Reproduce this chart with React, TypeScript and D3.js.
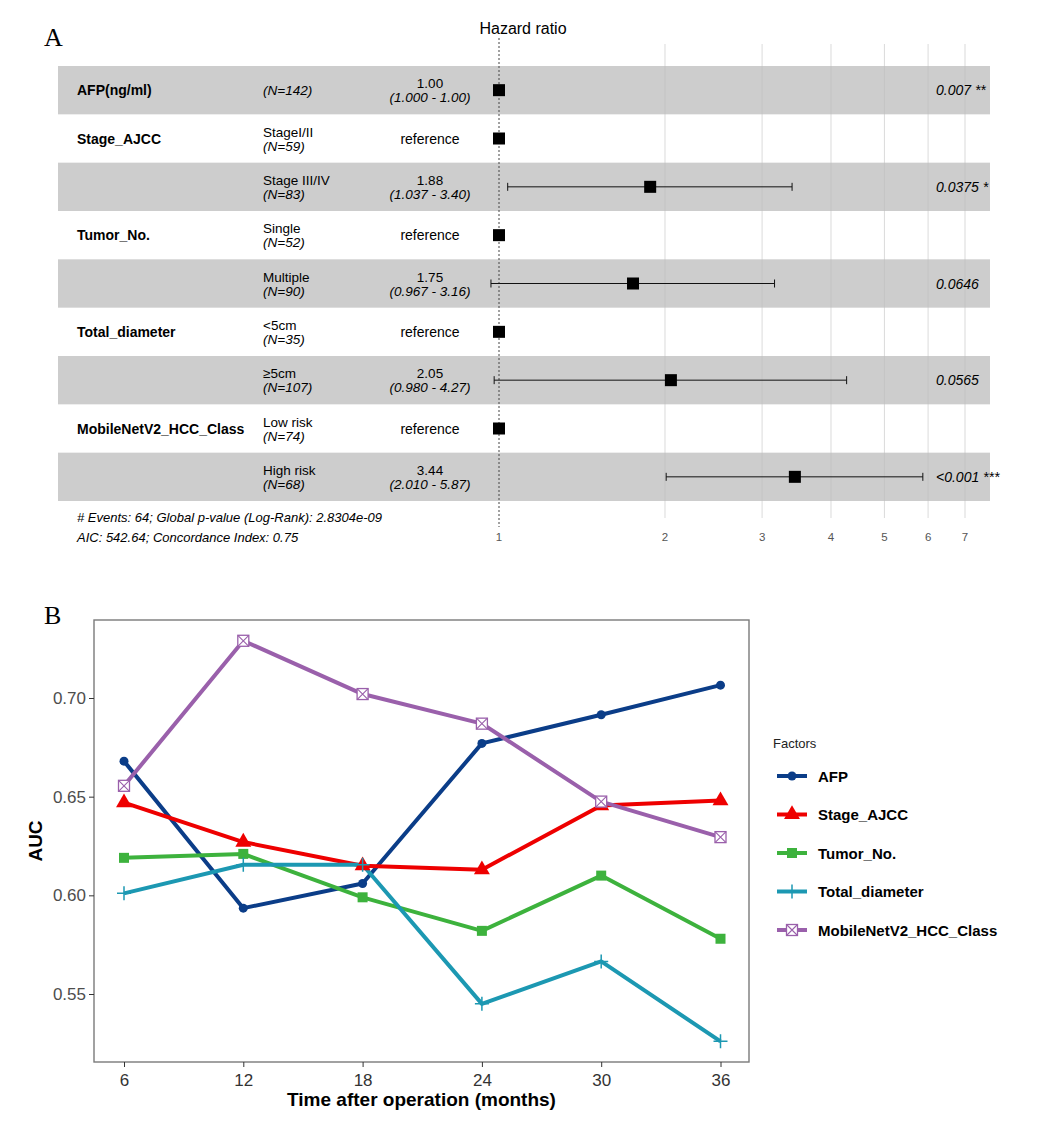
import * as d3 from 'd3';
import { useEffect, useRef } from 'react';

// Panel A: Cox model forest plot
const forestVars = ['AFP(ng/ml)', 'Stage_AJCC', '', 'Tumor_No.', '', 'Total_diameter', '', 'MobileNetV2_HCC_Class', ''];
const forestLevels = ['', 'StageI/II', 'Stage III/IV', 'Single', 'Multiple', '<5cm', '≥5cm', 'Low risk', 'High risk'];
const forestN = [142, 59, 83, 52, 90, 35, 107, 74, 68];
const forestHR = [1.0, 1, 1.88, 1, 1.75, 1, 2.05, 1, 3.44];
const forestLo: (number | null)[] = [1.0, null, 1.037, null, 0.967, null, 0.98, null, 2.01];
const forestHi: (number | null)[] = [1.0, null, 3.4, null, 3.16, null, 4.27, null, 5.87];
const forestP = ['0.007 **', '', '0.0375 *', '', '0.0646', '', '0.0565', '', '<0.001 ***'];
const forestTicks = [1, 2, 3, 4, 5, 6, 7];
const forestNotes = [
  '# Events: 64; Global p-value (Log-Rank): 2.8304e-09',
  'AIC: 542.64; Concordance Index: 0.75'
];

// Panel B: time-dependent AUC
const months = [6, 12, 18, 24, 30, 36];
const factorNames = ['AFP', 'Stage_AJCC', 'Tumor_No.', 'Total_diameter', 'MobileNetV2_HCC_Class'];
const aucAFP = [0.668, 0.5935, 0.606, 0.677, 0.6915, 0.7065];
const aucStage = [0.647, 0.627, 0.615, 0.613, 0.6455, 0.648];
const aucTumor = [0.619, 0.621, 0.599, 0.582, 0.61, 0.578];
const aucDiameter = [0.601, 0.6155, 0.6155, 0.545, 0.5665, 0.526];
const aucMobile = [0.6555, 0.729, 0.702, 0.687, 0.6475, 0.6295];
const aucTicks = [0.55, 0.6, 0.65, 0.7];

const factorColors = ['#0b3d88', '#ee0000', '#3db23d', '#1c98b2', '#9a60ab'];
const factorShapes = ['circle', 'triangle', 'square', 'plus', 'squarecross'];

const FONT = '"Liberation Sans", Arial, sans-serif';

export default function App() {
  const svgRef = useRef<SVGSVGElement>(null);

  useEffect(() => {
    document.body.style.margin = '0';
    const svg = d3.select(svgRef.current!);
    svg.selectAll('*').remove();
    drawForest(svg);
    drawAuc(svg);
  }, []);

  const drawForest = (svg: d3.Selection<SVGSVGElement, unknown, null, undefined>) => {
    const g = svg.append('g').attr('font-family', FONT);
    const rows = d3.range(forestHR.length);
    const yScale = d3.scaleBand<number>().domain(rows).range([66, 501]);
    const xScale = d3.scaleLog().domain([1, 7]).range([499, 965]);
    const cy = (i: number) => yScale(i)! + yScale.bandwidth() / 2;

    svg
      .append('text')
      .attr('x', 44)
      .attr('y', 46)
      .attr('font-family', '"Liberation Serif", serif')
      .attr('font-size', 26)
      .text('A');

    g.append('text')
      .attr('x', 523)
      .attr('y', 34)
      .attr('text-anchor', 'middle')
      .attr('font-size', 16)
      .text('Hazard ratio');

    // alternating bands
    g.selectAll('rect.band')
      .data(rows.filter((i) => i % 2 === 0))
      .enter()
      .append('rect')
      .attr('x', 58)
      .attr('width', 932)
      .attr('y', (i) => yScale(i)!)
      .attr('height', yScale.bandwidth())
      .attr('fill', '#cdcdcd');

    // vertical grid lines
    g.selectAll('line.grid')
      .data(forestTicks.slice(1))
      .enter()
      .append('line')
      .attr('x1', (d) => xScale(d))
      .attr('x2', (d) => xScale(d))
      .attr('y1', 44)
      .attr('y2', 518)
      .attr('stroke', '#bdbdbd')
      .attr('stroke-opacity', 0.7)
      .attr('stroke-width', 0.8);

    g.append('line')
      .attr('x1', xScale(1))
      .attr('x2', xScale(1))
      .attr('y1', 38)
      .attr('y2', 527)
      .attr('stroke', '#444')
      .attr('stroke-width', 1)
      .attr('stroke-dasharray', '2,2');

    g.selectAll('text.tick')
      .data(forestTicks)
      .enter()
      .append('text')
      .attr('x', (d) => xScale(d))
      .attr('y', 541)
      .attr('text-anchor', 'middle')
      .attr('font-size', 11.5)
      .attr('fill', '#555')
      .text((d) => d);

    // variable names
    g.selectAll('text.var')
      .data(rows)
      .enter()
      .append('text')
      .attr('x', 77)
      .attr('y', (i) => cy(i) + 5)
      .attr('font-size', 14)
      .attr('font-weight', 'bold')
      .text((i) => forestVars[i]);

    // levels with N, estimates, markers, p-values
    rows.forEach((i) => {
      const y = cy(i);
      if (forestLevels[i]) {
        g.append('text')
          .attr('x', 263)
          .attr('y', y - 2)
          .attr('font-size', 13.5)
          .text(forestLevels[i]);
        g.append('text')
          .attr('x', 263)
          .attr('y', y + 12)
          .attr('font-size', 13.5)
          .attr('font-style', 'italic')
          .text(`(N=${forestN[i]})`);
      } else {
        g.append('text')
          .attr('x', 263)
          .attr('y', y + 5)
          .attr('font-size', 13.5)
          .attr('font-style', 'italic')
          .text(`(N=${forestN[i]})`);
      }

      const lo = forestLo[i];
      const hi = forestHi[i];
      if (lo === null || hi === null) {
        g.append('text')
          .attr('x', 430)
          .attr('y', y + 5)
          .attr('text-anchor', 'middle')
          .attr('font-size', 14)
          .text('reference');
      } else {
        g.append('text')
          .attr('x', 430)
          .attr('y', y - 2)
          .attr('text-anchor', 'middle')
          .attr('font-size', 13.5)
          .text(d3.format('.2f')(forestHR[i]));
        g.append('text')
          .attr('x', 430)
          .attr('y', y + 12)
          .attr('text-anchor', 'middle')
          .attr('font-size', 13.5)
          .attr('font-style', 'italic')
          .text(`(${d3.format('.3f')(lo)} - ${d3.format('.2f')(hi)})`);
        if (hi > lo) {
          g.append('line')
            .attr('x1', xScale(lo))
            .attr('x2', xScale(hi))
            .attr('y1', y)
            .attr('y2', y)
            .attr('stroke', '#111')
            .attr('stroke-width', 1);
          [lo, hi].forEach((v) => {
            g.append('line')
              .attr('x1', xScale(v))
              .attr('x2', xScale(v))
              .attr('y1', y - 4)
              .attr('y2', y + 4)
              .attr('stroke', '#111')
              .attr('stroke-width', 1);
          });
        }
      }

      g.append('rect')
        .attr('x', xScale(forestHR[i]) - 6)
        .attr('y', y - 6)
        .attr('width', 12)
        .attr('height', 12)
        .attr('fill', '#000');

      if (forestP[i]) {
        g.append('text')
          .attr('x', 936)
          .attr('y', y + 5)
          .attr('font-size', 14)
          .attr('font-style', 'italic')
          .text(forestP[i]);
      }
    });

    g.selectAll('text.note')
      .data(forestNotes)
      .enter()
      .append('text')
      .attr('x', 77)
      .attr('y', (_, k) => 522 + k * 20)
      .attr('font-size', 13)
      .attr('font-style', 'italic')
      .text((d) => d);
  };

  const drawMarker = (
    g: d3.Selection<SVGGElement, unknown, null, undefined>,
    shape: string,
    color: string,
    x: number,
    y: number
  ) => {
    if (shape === 'circle') {
      g.append('circle').attr('cx', x).attr('cy', y).attr('r', 4.5).attr('fill', color);
    } else if (shape === 'triangle') {
      g.append('path')
        .attr('transform', `translate(${x},${y})`)
        .attr('d', d3.symbol().type(d3.symbolTriangle).size(110)())
        .attr('fill', color);
    } else if (shape === 'square') {
      g.append('rect')
        .attr('x', x - 5)
        .attr('y', y - 5)
        .attr('width', 10)
        .attr('height', 10)
        .attr('fill', color);
    } else if (shape === 'plus') {
      g.append('path')
        .attr('d', `M${x - 7},${y}H${x + 7}M${x},${y - 7}V${y + 7}`)
        .attr('stroke', color)
        .attr('stroke-width', 1.5);
    } else {
      g.append('rect')
        .attr('x', x - 5.5)
        .attr('y', y - 5.5)
        .attr('width', 11)
        .attr('height', 11)
        .attr('fill', '#fff')
        .attr('stroke', color)
        .attr('stroke-width', 1.3);
      g.append('path')
        .attr('d', `M${x - 5.5},${y - 5.5}L${x + 5.5},${y + 5.5}M${x + 5.5},${y - 5.5}L${x - 5.5},${y + 5.5}`)
        .attr('stroke', color)
        .attr('stroke-width', 1.1);
    }
  };

  const drawAuc = (svg: d3.Selection<SVGSVGElement, unknown, null, undefined>) => {
    const g = svg.append('g').attr('font-family', FONT);
    const panel = { left: 94, right: 749, top: 620, bottom: 1062 };
    const xScale = d3.scaleLinear().domain([6, 36]).range([124, 720.5]);
    const yScale = d3.scaleLinear().domain([0.55, 0.7]).range([994, 698]);
    const series = [aucAFP, aucStage, aucTumor, aucDiameter, aucMobile];

    svg
      .append('text')
      .attr('x', 44)
      .attr('y', 624)
      .attr('font-family', '"Liberation Serif", serif')
      .attr('font-size', 26)
      .text('B');

    g.append('rect')
      .attr('x', panel.left)
      .attr('y', panel.top)
      .attr('width', panel.right - panel.left)
      .attr('height', panel.bottom - panel.top)
      .attr('fill', '#fff')
      .attr('stroke', '#7a7a7a')
      .attr('stroke-width', 1.4);

    const xAxis = g
      .append('g')
      .attr('transform', `translate(0,${panel.bottom})`)
      .call(d3.axisBottom(xScale).tickValues(months).tickSize(5).tickSizeOuter(0));
    xAxis.select('.domain').remove();
    xAxis.selectAll('line').attr('stroke', '#333');
    xAxis
      .selectAll('text')
      .attr('font-size', 17)
      .attr('font-family', FONT)
      .attr('fill', '#333')
      .attr('dy', '0.95em');

    const yAxis = g
      .append('g')
      .attr('transform', `translate(${panel.left},0)`)
      .call(d3.axisLeft(yScale).tickValues(aucTicks).tickFormat(d3.format('.2f')).tickSize(5));
    yAxis.select('.domain').remove();
    yAxis.selectAll('line').attr('stroke', '#333');
    yAxis
      .selectAll('text')
      .attr('font-size', 17)
      .attr('font-family', FONT)
      .attr('fill', '#4d4d4d');

    g.append('text')
      .attr('x', (panel.left + panel.right) / 2)
      .attr('y', 1106)
      .attr('text-anchor', 'middle')
      .attr('font-size', 19)
      .attr('font-weight', 'bold')
      .text('Time after operation (months)');

    g.append('text')
      .attr('transform', `translate(42,${(panel.top + panel.bottom) / 2}) rotate(-90)`)
      .attr('text-anchor', 'middle')
      .attr('font-size', 19)
      .attr('font-weight', 'bold')
      .text('AUC');

    const line = d3
      .line<number>()
      .x((_, k) => xScale(months[k]))
      .y((d) => yScale(d));

    series.forEach((vals, s) => {
      g.append('path')
        .attr('d', line(vals))
        .attr('fill', 'none')
        .attr('stroke', factorColors[s])
        .attr('stroke-width', 4)
        .attr('stroke-linejoin', 'round');
    });
    series.forEach((vals, s) => {
      vals.forEach((v, k) => drawMarker(g, factorShapes[s], factorColors[s], xScale(months[k]), yScale(v)));
    });

    // legend
    g.append('text').attr('x', 773).attr('y', 748).attr('font-size', 13).attr('fill', '#222').text('Factors');
    const legendY = d3.scalePoint<string>().domain(factorNames).range([776, 930]);
    factorNames.forEach((name, s) => {
      const y = legendY(name)!;
      g.append('line')
        .attr('x1', 777)
        .attr('x2', 807)
        .attr('y1', y)
        .attr('y2', y)
        .attr('stroke', factorColors[s])
        .attr('stroke-width', 4);
      drawMarker(g, factorShapes[s], factorColors[s], 792, y);
      g.append('text')
        .attr('x', 818)
        .attr('y', y + 5.5)
        .attr('font-size', 15)
        .attr('font-weight', 'bold')
        .text(name);
    });
  };

  return <svg ref={svgRef} width={1038} height={1126} style={{ display: 'block', background: '#fff' }} />;
}
